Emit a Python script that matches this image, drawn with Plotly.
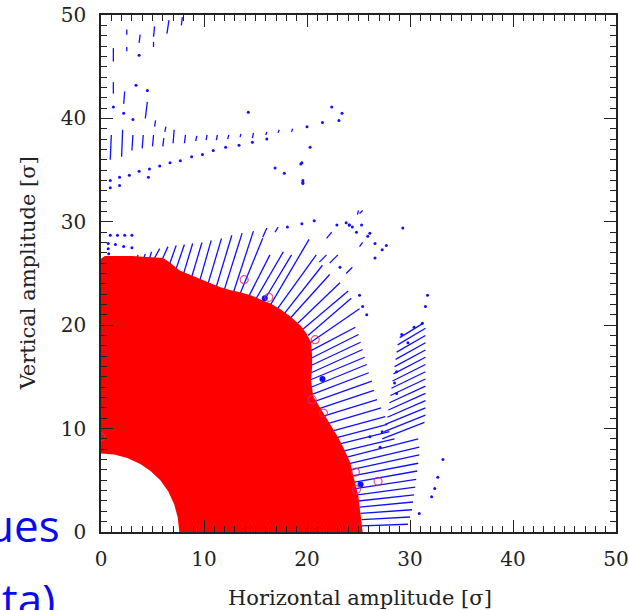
import plotly.graph_objects as go

# ---------------- data (units of sigma) ----------------
# red (surviving) region: outer boundary, clockwise from the top-left
RED_OUTER_X = [0.0, 0.4, 1.5, 3.0, 4.5, 6.0, 6.6, 7.6, 8.6, 9.6, 10.6, 11.5, 12.5, 13.5, 14.5,
               15.4, 16.4, 17.3, 18.3, 19.3, 19.9, 20.3, 20.4, 20.4, 20.3, 20.5, 21.0, 21.5,
               22.0, 22.5, 23.0, 23.5, 24.1, 24.5, 24.9, 25.1, 25.3]
RED_OUTER_Y = [26.3, 26.6, 26.6, 26.6, 26.5, 26.4, 26.0, 25.2, 24.8, 24.4, 24.0, 23.6, 23.3, 23.1, 22.8,
               22.4, 22.0, 21.5, 20.8, 19.9, 19.1, 18.3, 17.0, 16.0, 14.7, 13.1, 12.3, 11.5,
               10.7, 9.9, 9.0, 8.0, 6.7, 5.0, 3.4, 1.7, 0.0]
# inner (empty) quarter-disc edge, from the x axis to the y axis
RED_INNER_X = [7.7, 7.55, 7.2, 6.6, 5.8, 4.9, 3.8, 2.6, 1.3, 0.0]
RED_INNER_Y = [0.0, 1.4, 2.7, 4.0, 5.1, 5.95, 6.7, 7.25, 7.6, 7.7]

# blue streaks (x0, y0, x1, y1)
FAN_STREAKS = [
    (3.3, 26.0, 3.6, 26.8), (4.0, 26.0, 4.3, 26.9), (4.6, 26.0, 4.9, 27.1),
    (4.8, 25.8, 5.7, 27.4), (5.6, 25.6, 6.5, 27.6), (6.4, 25.2, 7.3, 27.7),
    (7.1, 24.9, 8.1, 27.8), (7.9, 24.6, 8.9, 27.9), (8.7, 24.3, 9.8, 28.0),
    (9.5, 24.0, 10.7, 28.2), (10.3, 23.7, 11.7, 28.4), (11.1, 23.4, 12.7, 28.7),
    (11.9, 23.2, 13.7, 28.9), (12.8, 23.0, 14.8, 29.1), (13.4, 22.8, 15.7, 28.4),
    (14.2, 22.5, 16.4, 26.8), (14.9, 22.3, 17.7, 27.1), (15.6, 22.0, 18.5, 26.8),
    (16.3, 21.7, 20.2, 28.3), (17.0, 21.4, 20.9, 26.8), (17.7, 21.0, 21.5, 25.8),
    (18.3, 20.6, 22.2, 24.9), (19.0, 20.1, 23.2, 24.1), (19.6, 19.6, 24.0, 23.3),
    (20.1, 19.0, 24.3, 22.6), (20.3, 18.3, 25.1, 21.6),
]
LEFT_CLUSTER = [
    (22.6, 9.8, 27.6, 11.15), (22.1, 10.5, 27.2, 12.0), (21.6, 11.2, 26.8, 12.8),
    (21.1, 11.9, 26.5, 13.7), (20.7, 12.6, 26.3, 14.6), (20.5, 13.3, 26.0, 15.4),
    (20.4, 14.0, 25.8, 16.2), (20.3, 14.7, 25.6, 16.9), (20.4, 15.4, 25.4, 17.65),
    (20.4, 16.1, 25.2, 18.35), (20.4, 16.8, 25.0, 19.1), (20.3, 17.5, 24.7, 19.8),
]
LOWER_STREAKS = [
    (25.3, 0.6, 29.8, 0.75), (25.3, 1.2, 30.0, 1.45), (25.2, 1.8, 30.2, 2.15),
    (25.1, 2.4, 30.3, 2.9), (25.0, 3.0, 30.4, 3.6), (24.9, 3.6, 30.5, 4.35),
    (24.7, 4.2, 30.6, 5.1), (24.5, 4.8, 30.7, 5.9), (24.3, 5.4, 30.8, 6.65),
    (24.2, 6.0, 30.9, 7.45), (24.0, 6.6, 30.9, 8.2), (23.7, 7.2, 30.8, 9.0),
    (23.4, 7.8, 28.5, 9.0), (23.1, 8.5, 28.0, 9.7), (22.8, 9.1, 27.8, 10.4),
]
RIGHT_CLUSTER = [
    (27.3, 9.0, 31.4, 10.6), (27.5, 9.7, 31.5, 11.3), (27.6, 10.4, 31.5, 12.0),
    (27.8, 11.1, 31.5, 12.7), (27.9, 11.8, 31.5, 13.4), (28.0, 12.5, 31.5, 14.1),
    (28.1, 13.2, 31.5, 14.8), (28.2, 13.9, 31.5, 15.5), (28.3, 14.6, 31.5, 16.2),
    (28.4, 15.3, 31.5, 16.9), (28.5, 16.0, 31.5, 17.6), (28.6, 16.7, 31.5, 18.3),
    (28.7, 17.4, 31.5, 19.0), (28.8, 18.1, 31.5, 19.7), (29.0, 18.8, 31.3, 20.2),
]
OUTER_DASHES = [
    (15.7, 28.5, 16.1, 29.4), (16.9, 29.0, 17.2, 29.5), (21.9, 28.4, 22.4, 29.0),
    (21.2, 26.1, 21.9, 26.8), (22.2, 26.0, 23.0, 26.8), (23.8, 25.0, 24.4, 25.6),
    (25.1, 27.6, 25.4, 28.0), (25.1, 30.8, 25.4, 31.1), (24.9, 30.7, 25.0, 31.1),
]
UPPER_DASHES = [
    (1.2, 45.5, 1.2, 46.8), (2.5, 48.1, 2.5, 48.6), (2.5, 46.5, 2.5, 46.9),
    (3.7, 47.3, 3.8, 48.1), (5.1, 47.9, 5.2, 48.9), (5.1, 46.9, 5.1, 47.4),
    (6.4, 48.2, 6.6, 49.5), (7.8, 49.0, 7.9, 49.8), (1.2, 42.4, 1.2, 43.5),
    (2.2, 41.4, 2.3, 42.6), (4.3, 40.0, 4.5, 41.6), (5.2, 39.2, 5.3, 39.8),
    (6.2, 38.7, 6.3, 39.2),
    # the row of near-vertical dashes around 36-39
    (0.9, 36.0, 1.0, 38.4), (2.0, 36.3, 2.1, 38.9), (3.0, 36.9, 3.1, 38.4),
    (4.0, 37.1, 4.1, 38.4), (5.0, 37.3, 5.1, 38.4), (6.0, 37.3, 6.1, 38.1),
    (7.0, 37.6, 7.1, 38.9), (8.1, 37.6, 8.2, 38.4), (9.2, 37.8, 9.3, 38.3),
    (10.2, 37.9, 10.3, 38.4), (11.2, 37.9, 11.3, 38.4), (12.3, 38.0, 12.4, 38.4),
    (13.5, 38.2, 13.6, 38.5), (14.7, 38.1, 14.8, 38.6), (16.0, 38.4, 16.1, 38.7),
    (17.2, 38.6, 17.3, 38.9), (18.5, 38.7, 18.6, 39.0),
]
# isolated blue points
DOT_X = [0.9, 1.8, 2.75, 3.7, 4.7, 4.6, 5.7, 6.7, 7.7, 8.8, 9.85, 10.9, 12.1, 13.4, 14.7, 16.1,
         0.9, 1.8, 1.2, 2.2, 3.4, 4.5, 3.1, 3.7, 14.3, 16.9, 17.8, 19.4, 19.6, 19.6, 20.3, 20.0,
         21.5, 22.4, 23.4, 23.1, 19.5, 19.6,
         0.9, 1.6, 2.3, 3.0, 0.7, 1.4, 2.2, 3.0, 0.7, 0.75,
         18.1, 19.5, 20.7, 22.9, 24.1, 25.9, 26.6, 27.7, 27.3, 29.3, 24.1, 24.8, 26.1, 26.6,
         23.2, 23.8, 24.4, 25.3, 25.1, 25.4, 25.8, 30.4, 31.7, 31.5, 31.2,
         29.2, 29.8, 28.7, 28.5, 28.7, 27.3, 26.1, 27.1,
         33.2, 32.7, 32.4, 32.1, 30.9]
DOT_Y = [34.0, 34.3, 34.5, 34.9, 35.1, 34.3, 35.4, 35.7, 35.9, 36.3, 36.5, 36.9, 37.2, 37.4, 37.7, 38.0,
         33.3, 33.5, 41.1, 40.5, 43.2, 42.7, 39.9, 46.1, 40.6, 35.2, 34.7, 35.6, 34.0, 33.7, 37.2, 39.2,
         39.6, 41.1, 40.5, 39.8, 35.7, 33.8,
         28.7, 28.7, 28.7, 28.7, 27.9, 27.8, 27.6, 27.5, 27.4, 26.9,
         29.5, 29.8, 30.1, 29.7, 29.7, 28.6, 27.9, 27.7, 27.3, 29.4, 29.7, 29.0, 28.9, 26.5,
         25.6, 29.9, 29.5, 29.7, 22.9, 21.8, 21.0, 19.8, 22.9, 21.8, 20.2,
         19.1, 18.3, 15.5, 14.4, 13.4, 9.7, 9.2, 8.2,
         7.0, 5.3, 4.2, 3.4, 1.8]
# larger blue points and open red circles on the edge of the red region
BIG_DOT_X = [21.5, 25.2, 15.9]
BIG_DOT_Y = [14.8, 4.6, 22.6]
RING_X = [13.9, 26.9, 16.3, 20.8, 20.5, 21.6, 24.7, 24.8, 0.0]
RING_Y = [24.4, 4.9, 22.7, 18.6, 12.8, 11.5, 5.8, 4.1, 9.2]

AXIS_TICKS = [0, 10, 20, 30, 40, 50]
X_TITLE = "Horizontal amplitude [σ]"
Y_TITLE = "Vertical amplitude [σ]"


def segments(*groups):
    xs, ys = [], []
    for g in groups:
        for x0, y0, x1, y1 in g:
            xs += [x0, x1, None]
            ys += [y0, y1, None]
    return xs, ys


BLUE = "rgb(15,15,255)"
RED = "rgb(255,0,0)"
SERIF = "DejaVu Serif"

fig = go.Figure()
sx, sy = segments(FAN_STREAKS, LEFT_CLUSTER, LOWER_STREAKS, RIGHT_CLUSTER,
                  OUTER_DASHES, UPPER_DASHES)
fig.add_trace(go.Scatter(x=sx, y=sy, mode="lines",
                         line=dict(color=BLUE, width=1.3), hoverinfo="skip"))
fig.add_trace(go.Scatter(x=DOT_X, y=DOT_Y, mode="markers",
                         marker=dict(color=BLUE, size=3), hoverinfo="skip"))

poly_x = RED_OUTER_X + RED_INNER_X + [RED_OUTER_X[0]]
poly_y = RED_OUTER_Y + RED_INNER_Y + [RED_OUTER_Y[0]]
fig.add_trace(go.Scatter(x=poly_x, y=poly_y, mode="lines", fill="toself",
                         fillcolor=RED, line=dict(color=RED, width=2),
                         hoverinfo="skip"))
fig.add_trace(go.Scatter(x=BIG_DOT_X, y=BIG_DOT_Y, mode="markers",
                         marker=dict(color=BLUE, size=6), hoverinfo="skip"))
fig.add_trace(go.Scatter(x=RING_X, y=RING_Y, mode="markers",
                         marker=dict(color="rgba(225,40,110,0.8)", size=8,
                                     symbol="circle-open", line=dict(width=1.2)),
                         hoverinfo="skip"))

axis_common = dict(
    range=[0, 50], tickvals=AXIS_TICKS, ticks="inside", ticklen=12, tickwidth=1.3,
    tickcolor="#222", showline=True, linecolor="#222", linewidth=1.6,
    mirror="allticks", showgrid=False, zeroline=False, automargin=False,
    minor=dict(dtick=1, ticks="inside", ticklen=6, tickwidth=1.1, tickcolor="#222", showgrid=False),
    tickfont=dict(family=SERIF, size=20, color="#222"),
    fixedrange=True,
)
fig.update_layout(
    width=629, height=610,
    margin=dict(l=101, r=13, t=15, b=78, autoexpand=False),
    paper_bgcolor="white", plot_bgcolor="white",
    showlegend=False,
    xaxis=dict(axis_common, ticklabelstandoff=8),
    yaxis=dict(axis_common, ticklabelstandoff=9),
    annotations=[
        dict(text=X_TITLE, xref="paper", yref="paper", x=0.503, y=-0.128,
             xanchor="center", yanchor="middle", showarrow=False,
             font=dict(family=SERIF, size=21, color="#222")),
        dict(text=Y_TITLE, xref="paper", yref="paper", x=-0.142, y=0.5,
             xanchor="center", yanchor="middle", showarrow=False, textangle=-90,
             font=dict(family=SERIF, size=21, color="#222")),
        dict(text="ues", xref="paper", yref="paper", x=-0.0757, y=0.0145,
             xanchor="right", yanchor="middle", showarrow=False,
             font=dict(family="Open Sans", size=44, color="rgb(10,10,240)")),
        dict(text="ta)", xref="paper", yref="paper", x=-0.0854, y=-0.0677,
             xanchor="right", yanchor="top", showarrow=False,
             font=dict(family="Open Sans", size=44, color="rgb(10,10,240)")),
    ],
)
fig.write_html("out.html", config={"displayModeBar": False},
               post_script="document.body.style.margin='0';"
                           "document.body.style.overflow='hidden';")
